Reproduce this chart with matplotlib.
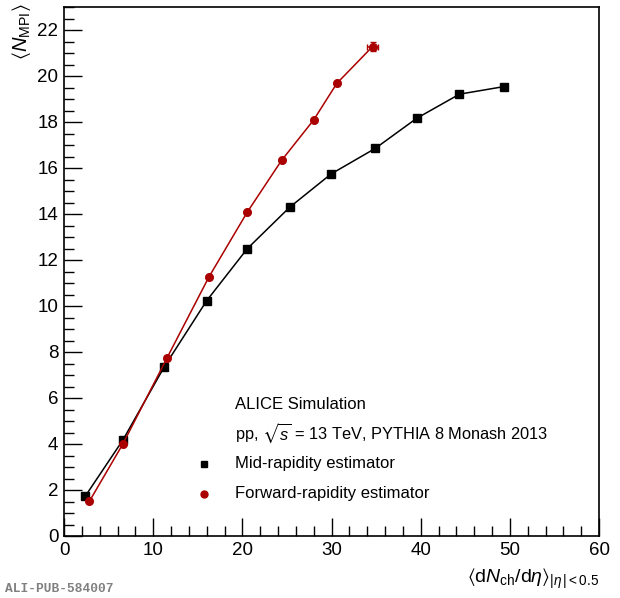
import matplotlib
matplotlib.use("Agg")
import matplotlib.pyplot as plt
from matplotlib.ticker import MultipleLocator

plt.rcParams["font.family"] = ["Liberation Sans", "DejaVu Sans"]
plt.rcParams["mathtext.fontset"] = "custom"
plt.rcParams["mathtext.rm"] = "Liberation Sans"
plt.rcParams["mathtext.it"] = "Liberation Sans:italic"
plt.rcParams["mathtext.bf"] = "Liberation Sans:bold"
plt.rcParams["mathtext.fallback"] = "stixsans"

# Mid-rapidity estimator
mid_x = [2.4, 6.6, 11.25, 16.0, 20.55, 25.3, 29.95, 34.9, 39.55, 44.35, 49.35]
mid_y = [1.74, 4.17, 7.36, 10.23, 12.49, 14.29, 15.74, 16.85, 18.16, 19.21, 19.54]
mid_yerr = [0, 0, 0, 0, 0, 0, 0, 0, 0, 0, 0.12]

# Forward-rapidity estimator
fwd_x = [2.85, 6.6, 11.55, 16.25, 20.55, 24.4, 28.0, 30.6, 34.6]
fwd_y = [1.51, 4.0, 7.74, 11.26, 14.08, 16.33, 18.09, 19.68, 21.28]
fwd_xerr = [0, 0, 0, 0, 0, 0, 0, 0, 0.65]
fwd_yerr = [0, 0, 0, 0, 0, 0, 0, 0, 0.19]

RED = "#aa0000"

fig = plt.figure(figsize=(6.2, 5.98), dpi=100)
ax = fig.add_axes([64 / 620, 62 / 598, 535 / 620, 529 / 598])

ax.errorbar(mid_x, mid_y, yerr=mid_yerr, color="black", marker="s",
            markersize=5.5, linewidth=1.1, capsize=0, elinewidth=1.5)
ax.errorbar(fwd_x, fwd_y, xerr=fwd_xerr, yerr=fwd_yerr, color=RED,
            marker="o", markersize=5.5, linewidth=1.1, capsize=2,
            elinewidth=1.1)

ax.set_xlim(0, 60)
ax.set_ylim(0, 23)
ax.xaxis.set_major_locator(MultipleLocator(10))
ax.xaxis.set_minor_locator(MultipleLocator(2))
ax.yaxis.set_major_locator(MultipleLocator(2))
ax.yaxis.set_minor_locator(MultipleLocator(0.5))
ax.tick_params(which="both", direction="in", top=False, right=False,
               labelsize=13.5, width=1.0, pad=4)
ax.tick_params(which="major", length=13)
ax.tick_params(which="minor", length=7)
for s in ax.spines.values():
    s.set_linewidth(1.2)

ax.set_ylabel(r"$\langle N_{\rm MPI}\rangle$", fontsize=14.5)
ax.yaxis.set_label_coords(-0.058, 0.953)
ax.set_xlabel(r"$\langle {\rm d}N_{\rm ch}/{\rm d}\eta\rangle_{|\eta\,|<0.5}$",
              fontsize=14)
ax.xaxis.set_label_coords(1.0, -0.058)
ax.xaxis.label.set_horizontalalignment("right")

# header text and legend
fs = 12
ax.text(0.32, 0.249, "ALICE Simulation", transform=ax.transAxes,
        fontsize=fs, va="center")
ax.text(0.32, 0.193, r"pp, $\sqrt{s}$ = 13 TeV, PYTHIA 8 Monash 2013",
        transform=ax.transAxes, fontsize=11.8, va="center")
ax.plot([0.262], [0.137], transform=ax.transAxes, marker="s", color="black",
        markersize=5, linestyle="none")
ax.text(0.32, 0.137, "Mid-rapidity estimator", transform=ax.transAxes,
        fontsize=fs, va="center")
ax.plot([0.262], [0.080], transform=ax.transAxes, marker="o", color=RED,
        markersize=5, linestyle="none")
ax.text(0.32, 0.080, "Forward-rapidity estimator", transform=ax.transAxes,
        fontsize=fs, va="center")

fig.text(5 / 620, 1 - 589 / 598, "ALI-PUB-584007", family="Liberation Mono",
         fontsize=9.3, fontweight="bold", color="#808080", va="center")

fig.savefig("out.png", dpi=100)
